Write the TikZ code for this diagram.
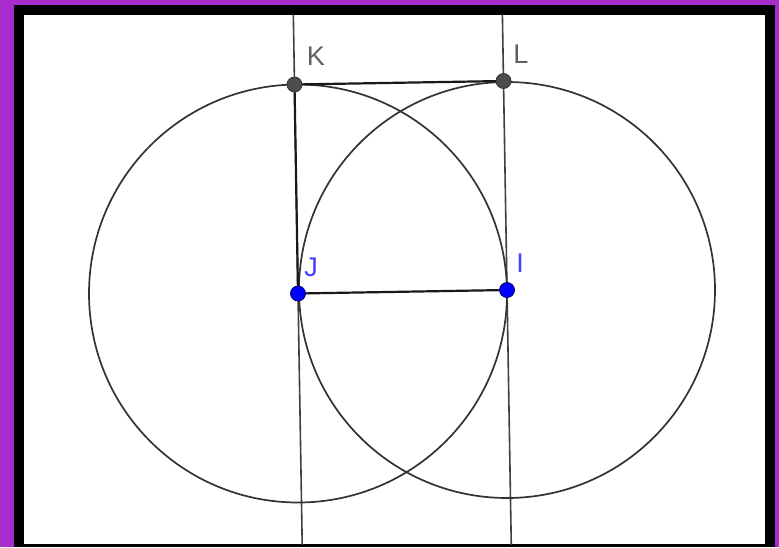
\documentclass[tikz,border=0pt]{standalone}
\usepackage{fontspec}
\setmainfont{Liberation Sans}
\usetikzlibrary{calc}
\definecolor{frame}{RGB}{168,44,204}
\definecolor{ptblue}{RGB}{0,0,255}
\definecolor{ptgray}{RGB}{77,77,77}
\definecolor{lblblue}{RGB}{64,64,255}
\definecolor{lblgray}{RGB}{96,96,96}
\tikzset{
  fullline/.style={draw=black!75, line width=1.6pt},
  seg/.style={draw=black!90, line width=2.2pt},
  circ/.style={draw=black!80, line width=1.7pt},
  bluept/.style={circle, fill=ptblue, draw=black!60!blue, line width=0.8pt, minimum size=15pt, inner sep=0pt},
  graypt/.style={circle, fill=ptgray, draw=black!80, line width=0.8pt, minimum size=15pt, inner sep=0pt},
  lbl/.style={font=\fontsize{27}{27}\selectfont, inner sep=0pt, anchor=center}
}
\begin{document}
\begin{tikzpicture}[x=1pt,y=-1pt]
\useasboundingbox (0,0) rectangle (779,547);
\fill[frame] (0,0) rectangle (779,547);
\fill[black] (14,5) rectangle (775,547);
\fill[white] (24,15) rectangle (765,544);
\coordinate (J) at (298,293.5);
\coordinate (I) at (507,290);
\coordinate (K) at (294.5,84.5);
\coordinate (L) at (503.5,81);
\begin{scope}
\clip (24,15) rectangle (765,544);
\draw[fullline] ($(J)!-2!(K)$) -- ($(K)!-2!(J)$);
\draw[fullline] ($(I)!-2!(L)$) -- ($(L)!-2!(I)$);
\draw[circ] (J) circle[radius=209];
\draw[circ] (I) circle[radius=208];
\draw[seg] (K) -- (J);
\draw[seg] (J) -- (I);
\draw[seg] (K) -- (L);
\end{scope}
\node[graypt] (Kp) at (K) {};
\node[graypt] (Lp) at (L) {};
\node[bluept] (Jp) at (J) {};
\node[bluept] (Ip) at (I) {};
\node[lbl, text=lblgray] (Kl) at (316,56) {K};
\node[lbl, text=lblgray] (Ll) at (521,54) {L};
\node[lbl, text=lblblue] (Jl) at (311,267) {J};
\node[lbl, text=lblblue] (Il) at (520,263) {I};
\end{tikzpicture}
\end{document}
